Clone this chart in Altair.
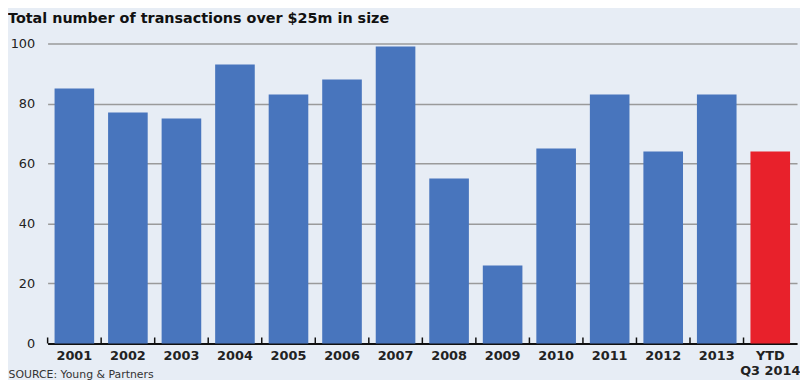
import altair as alt
import pandas as pd

categories = ["2001", "2002", "2003", "2004", "2005", "2006", "2007",
              "2008", "2009", "2010", "2011", "2012", "2013", "YTD Q3 2014"]
values = [85, 77, 75, 93, 83, 88, 99, 55, 26, 65, 83, 64, 83, 64]
kinds = ["full"] * 13 + ["ytd"]
y_ticks = [0, 20, 40, 60, 80, 100]

df = pd.DataFrame({"year": categories, "count": values, "kind": kinds})

BG = "#e7edf5"
FONT = "DejaVu Sans"

xscale = alt.Scale(paddingInner=0.26, paddingOuter=0.13)

bars = alt.Chart(df).mark_bar().encode(
    x=alt.X("year:N", sort=categories, scale=xscale,
            axis=alt.Axis(
                title="SOURCE: Young & Partners",
                titleFont=FONT, titleFontSize=11, titleFontWeight="normal",
                titleColor="#333333", titleAnchor="start", titleAlign="left",
                titleBaseline="top", titleX=-40, titleY=25,
                labelAngle=0, labelFont=FONT, labelFontSize=13,
                labelFontWeight="bold", labelColor="#222222",
                labelPadding=6, labelLineHeight=15,
                labelExpr="datum.value == 'YTD Q3 2014' ? ['YTD', 'Q3 2014'] : datum.value",
                ticks=False, domain=True, domainColor="#111111",
                domainWidth=2, grid=False)),
    y=alt.Y("count:Q", scale=alt.Scale(domain=[0, 100]),
            axis=alt.Axis(values=y_ticks, title=None, labelFont=FONT,
                          labelFontSize=13, labelColor="#222222",
                          labelPadding=13, ticks=False, domain=False,
                          grid=True, gridColor="#9a9a9a", gridWidth=1.5)),
    color=alt.Color("kind:N", legend=None,
                    scale=alt.Scale(domain=["full", "ytd"],
                                    range=["#4875bd", "#e8212b"])),
)

ticks = alt.Chart(df).mark_rule(color="#111111", strokeWidth=1.5,
                                xOffset=-7).encode(
    x=alt.X("year:N", sort=categories, scale=xscale, bandPosition=0),
    y=alt.datum(0),
    y2=alt.datum(2),
)

chart = alt.layer(bars, ticks).properties(
    width=757, height=303,
    autosize=alt.AutoSizeParams(type="none"),
    padding={"left": 40, "top": 34, "right": 3, "bottom": 35},
    background=BG,
    title=alt.TitleParams(
        "Total number of transactions over $25m in size",
        anchor="start", offset=11, font=FONT, fontSize=14.5,
        fontWeight="bold", color="#111111"),
).configure_view(stroke=None)

chart.save("out.html", embed_options={"renderer": "svg", "actions": False})
